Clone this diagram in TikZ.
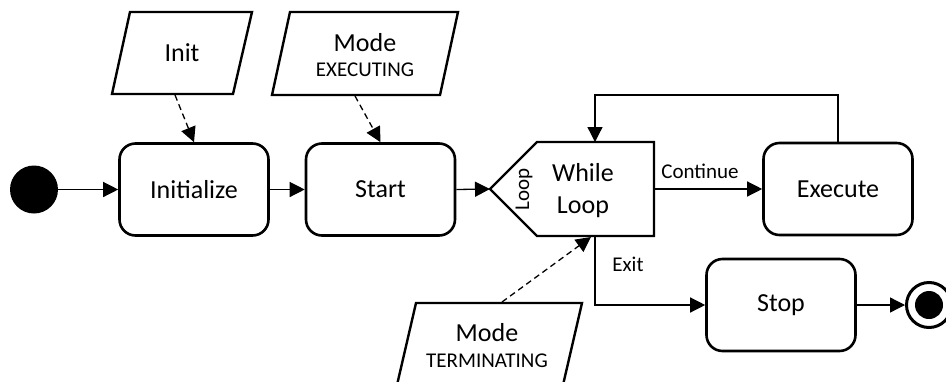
\documentclass[tikz,border=0pt]{standalone}
\usepackage{fontspec}
\setmainfont{Carlito}
\usetikzlibrary{arrows.meta}
\begin{document}
\begin{tikzpicture}[x=1pt,y=-1pt,
  act/.style={draw, line width=2.6pt, rounded corners=16pt, minimum width=149pt, minimum height=92pt, inner sep=0pt, font=\fontsize{26}{32}\selectfont},
  bigtxt/.style={inner sep=0pt, font=\fontsize{26}{32}\selectfont, align=center},
  smalltxt/.style={inner sep=0pt, font=\fontsize{21}{25}\selectfont},
  shapeline/.style={line width=2.4pt, line join=miter},
  flow/.style={line width=1.3pt, -{Triangle[length=15pt,width=15pt]}},
  dep/.style={line width=1.3pt, dash pattern=on 6pt off 4pt, -{Triangle[length=15pt,width=15pt]}},
]
\fill[white] (0,0) rectangle (946,381);
\useasboundingbox (0,0) rectangle (946,381);

% initial node
\node[circle, fill=black, minimum size=48pt, inner sep=0pt] (ini) at (34,189.5) {};

% actions
\node[act] (initialize) at (194,189.5) {Initialize};
\node[act] (start) at (380.5,189.5) {Start};
\node[act] (exec) at (838,189) {Execute};
\node[act] (stop) at (781,305) {Stop};

% object nodes (parallelograms)
\draw[shapeline] (130,12) -- (252,12) -- (233,94) -- (112,94) -- cycle;
\node[bigtxt] (init) at (182,53) {Init};
\coordinate (initB) at (175,95);

\draw[shapeline] (290,12) -- (458,12) -- (440,95) -- (272,95) -- cycle;
\node[bigtxt] (modeA) at (365,43) {Mode};
\node[smalltxt] (execTxt) at (365,70) {EXECUTING};
\coordinate (modeAB) at (355,96);

\draw[shapeline] (416,303) -- (582,303) -- (563,385) -- (397,385) -- cycle;
\node[bigtxt] (modeB) at (487,333) {Mode};
\node[smalltxt] (termTxt) at (487,361) {TERMINATING};
\coordinate (modeBT) at (502,302);

% loop node
\draw[shapeline] (490,189) -- (537,142) -- (654,142) -- (654,236) -- (537,236) -- cycle;
\coordinate (loopL) at (490,189);
\coordinate (loopT) at (595,142);
\coordinate (loopB) at (595,236);
\coordinate (loopBd) at (591,237);
\coordinate (loopR) at (654,189);
\node[smalltxt, rotate=90] (loopTxt) at (524,189) {Loop};
\node[bigtxt] (while) at (583,191) {While\\Loop};

% final node
\node[circle, draw, line width=3pt, minimum size=45pt, inner sep=0pt] (endc) at (929,305) {};
\node[circle, fill=black, minimum size=28pt, inner sep=0pt] (endIn) at (929,305) {};

% flows
\draw[flow] (ini.east) -- (initialize.west);
\draw[flow] (initialize.east) -- (start.west);
\draw[flow] (start.east) -- (loopL);
\draw[flow] (loopR) -- (exec.west);
\node[smalltxt] (cont) at (700,171) {Continue};
\coordinate (fb) at (595,95);
\draw[flow] (exec.north) |- (fb) -- (loopT);
\draw[flow] (loopB) |- (stop.west);
\node[smalltxt] (exitTxt) at (628,264) {Exit};
\draw[flow] (stop.east) -- (endc.west);

% dependencies
\draw[dep] (initB) -- (initialize.north);
\draw[dep] (modeAB) -- (start.north);
\draw[dep] (modeBT) -- (loopBd);
\end{tikzpicture}
\end{document}
